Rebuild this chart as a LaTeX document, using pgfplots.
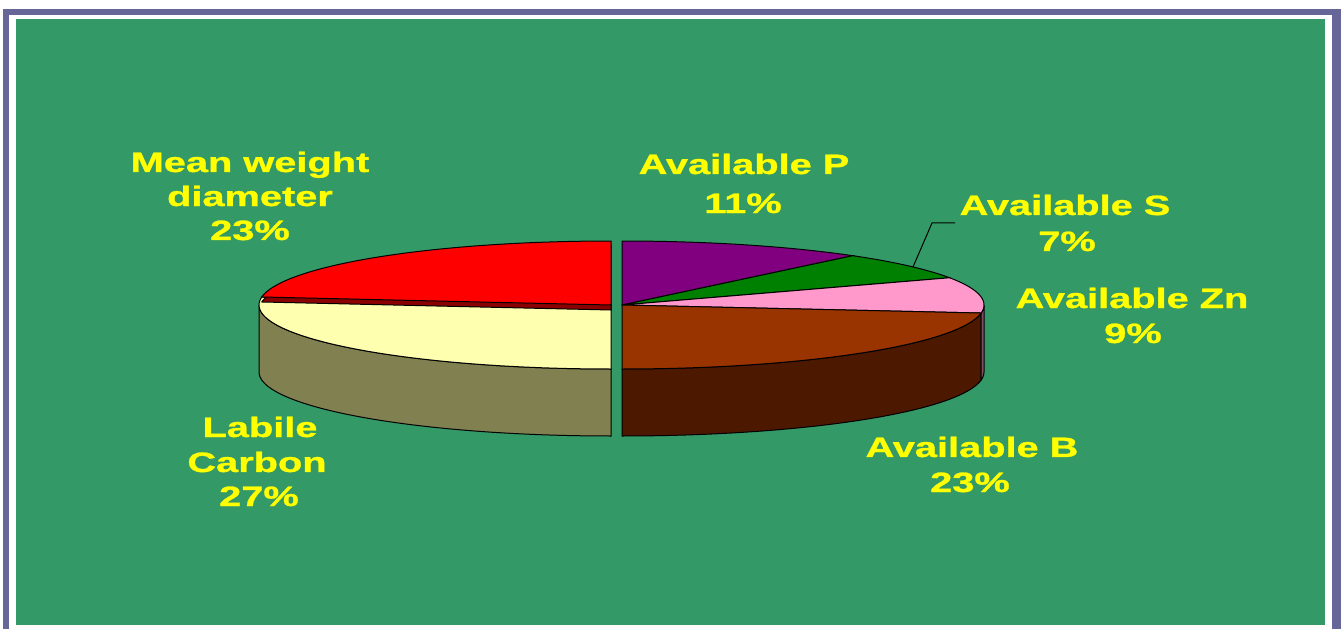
\documentclass[border=0pt]{standalone}
\usepackage{pgfplots}
\pgfplotsset{compat=1.18}
\usepackage{pgfplotstable}
\usepackage{graphicx}
\usepackage{fontspec}
\setmainfont{Liberation Sans}[BoldFeatures={FakeBold=0.9}]

\definecolor{bgreen}{HTML}{339966}
\definecolor{framecol}{HTML}{666699}
\definecolor{mwdtop}{HTML}{FF0000}
\definecolor{mwdcut}{HTML}{8A0000}
\definecolor{lctop}{HTML}{FFFFB0}
\definecolor{lcside}{HTML}{808050}
\definecolor{avptop}{HTML}{800080}
\definecolor{avstop}{HTML}{008000}
\definecolor{avzntop}{HTML}{FF99CC}
\definecolor{avznside}{HTML}{7F4C66}
\definecolor{avbtop}{HTML}{993300}
\definecolor{avbside}{HTML}{4C1900}
\definecolor{lbl}{HTML}{FFFF00}

% shares in percent, clockwise from twelve o'clock
\pgfplotstableread{
name pct
P    11
S    7
Zn   9
B    23
LC   27
MWD  23
}\pietable

% pie geometry (top face ellipse, depth of the disc)
\def\cy{305}
\def\ry{64}
\def\depth{67}
\def\cxL{611}\def\rxL{352}
\def\cxR{622}\def\rxR{362}

% top face of a slice: #1,#2 cumulative start/end (percent), #3 colour, #4 centre x, #5 radius x, #6 centre y
\newcommand{\pietop}[6]{%
  \pgfmathsetmacro\angA{90-3.6*#2}%
  \pgfmathsetmacro\angB{90-3.6*#1}%
  \addplot[fill=#3, draw=black, line width=0.5pt, domain=\angA:\angB, samples=70]
    ({#4+#5*cos(x)}, {#6-\ry*sin(x)}) -- (axis cs:#4,#6) -- cycle;
}
% front side of a slice, clipped to the visible half (-180..0 degrees)
\newcommand{\pieside}[5]{%
  \pgfmathsetmacro\angA{max(90-3.6*#2,-180)}%
  \pgfmathsetmacro\angB{min(90-3.6*#1,0)}%
  \addplot[fill=#3, draw=black, line width=0.5pt, domain=0:3, samples=151]
    ({#4+#5*cos(\angA+(\angB-\angA)*(min(x,1)-max(x-2,0)))},
     {\cy-\ry*sin(\angA+(\angB-\angA)*(min(x,1)-max(x-2,0)))+\depth*min(max(x-1,0),1)}) -- cycle;
}

\newcommand{\getpct}[2]{\pgfplotstablegetelem{#1}{pct}\of\pietable\edef#2{\pgfplotsretval}}

\begin{document}
\begin{tikzpicture}
\getpct{0}\pP \getpct{1}\pS \getpct{2}\pZn \getpct{3}\pB \getpct{4}\pLC \getpct{5}\pMWD
\pgfmathsetmacro\cA{0}
\pgfmathsetmacro\cB{\cA+\pP}
\pgfmathsetmacro\cC{\cB+\pS}
\pgfmathsetmacro\cD{\cC+\pZn}
\pgfmathsetmacro\cE{\cD+\pB}
\pgfmathsetmacro\cF{\cE+\pLC}
\pgfmathsetmacro\cG{\cF+\pMWD}

\path[use as bounding box] (0,0) rectangle (670.5pt,314pt);

% slide background and frame
\begin{scope}[x=0.5pt, y=-0.5pt, shift={(0,314pt)}]
  \fill[white] (0,0) rectangle (1341,628);
  \fill[framecol] (3,9) rectangle (1341,640);
  \fill[white] (9,15) rectangle (1332,640);
  \fill[bgreen] (16,19) rectangle (1325,625);
  \fill[white!92!pink] (16,625) rectangle (1325,628);
\end{scope}

\begin{axis}[
  hide axis, scale only axis,
  width=670.5pt, height=314pt,
  xmin=0, xmax=1341, ymin=0, ymax=628,
  y dir=reverse, clip=true,
]
  % left half: Labile Carbon and Mean weight diameter
  \pieside{\cE}{\cF}{lcside}{\cxL}{\rxL}
  \pietop{\cE}{\cF}{lctop}{\cxL}{\rxL}{\cy}
  \pietop{\cF}{\cG}{mwdcut}{\cxL}{\rxL}{310}
  \pietop{\cF}{\cG}{mwdtop}{\cxL}{\rxL}{\cy}
  % right half: Available P, S, Zn, B
  \pieside{\cD}{\cE}{avbside}{\cxR}{\rxR}
  \pieside{\cC}{\cD}{avznside}{\cxR}{\rxR}
  \pietop{\cA}{\cB}{avptop}{\cxR}{\rxR}{\cy}
  \pietop{\cB}{\cC}{avstop}{\cxR}{\rxR}{\cy}
  \pietop{\cC}{\cD}{avzntop}{\cxR}{\rxR}{\cy}
  \pietop{\cD}{\cE}{avbtop}{\cxR}{\rxR}{\cy}
\end{axis}

% slice labels
\begin{scope}[x=0.5pt, y=-0.5pt, shift={(0,314pt)},
  every node/.style={anchor=base, text=lbl, inner sep=0pt,
    font=\fontsize{14}{17}\selectfont\bfseries}]
  \newcommand{\wide}[1]{\scalebox{1.42}[1]{#1}}
  \node at (250,172) {\wide{Mean weight}};
  \node at (250,206) {\wide{diameter}};
  \node at (250,240) {\wide{23\%}};
  \node at (744,174) {\wide{Available P}};
  \node at (743,213) {\wide{11\%}};
  \node at (1065,215) {\wide{Available S}};
  \node at (1067,251) {\wide{7\%}};
  \node at (1132,308) {\wide{Available Zn}};
  \node at (1133,343) {\wide{9\%}};
  \node at (972,457) {\wide{Available B}};
  \node at (970,492) {\wide{23\%}};
  \node at (260,437) {\wide{Labile}};
  \node at (257,472) {\wide{Carbon}};
  \node at (259,506) {\wide{27\%}};
  \draw[black, line width=0.5pt] (955,223) -- (932,223) -- (913,267);
\end{scope}
\end{tikzpicture}
\end{document}
